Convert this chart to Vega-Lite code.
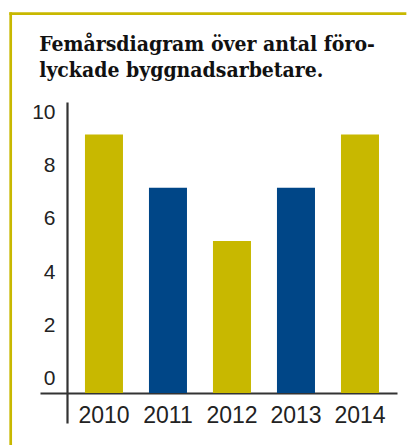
{
  "$schema": "https://vega.github.io/schema/vega-lite/v6.json",
  "width": 394.3,
  "height": 431.3,
  "autosize": {"type": "none"},
  "padding": {"left": 10.7, "top": 13.7, "right": 8, "bottom": 0},
  "background": "white",
  "title": {
    "text": ["Femårsdiagram över antal föro-", "lyckade byggnadsarbetare."],
    "anchor": "start",
    "frame": "group",
    "font": "DejaVu Serif Condensed, DejaVu Serif",
    "fontWeight": "bold",
    "fontSize": 21,
    "lineHeight": 26,
    "color": "#111111",
    "offset": 0,
    "baseline": "alphabetic",
    "dx": 28.5,
    "dy": 87
  },
  "data": {
    "values": [
      {"year": "2010", "count": 9},
      {"year": "2011", "count": 7},
      {"year": "2012", "count": 5},
      {"year": "2013", "count": 7},
      {"year": "2014", "count": 9}
    ]
  },
  "layer": [
    {
      "mark": {"type": "point", "opacity": 0},
      "encoding": {
        "x": {
          "field": "count",
          "type": "quantitative",
          "axis": {"orient": "top", "labels": false, "ticks": false, "grid": false, "title": null, "domainColor": "#C8B800", "domainWidth": 2.7, "domainCap": "square", "translate": 0}
        },
        "y": {
          "field": "count",
          "type": "quantitative",
          "axis": {"orient": "right", "offset": -394.3, "labels": false, "ticks": false, "grid": false, "title": null, "domainColor": "#C8B800", "domainWidth": 2.7, "domainCap": "square", "translate": 0}
        }
      }
    },
    {
      "mark": {"type": "bar"},
      "encoding": {
        "x": {
          "field": "year",
          "type": "ordinal",
          "scale": {"range": [29.3, 386.3], "paddingInner": 0.406, "paddingOuter": 0.492, "align": 0.714},
          "axis": {
            "orient": "bottom",
            "title": null,
            "offset": -52,
            "ticks": false,
            "tickSize": 0,
            "labelPadding": 11,
            "labelAngle": 0,
            "labelFont": "Liberation Sans Narrow, Liberation Sans",
            "labelFontSize": 23,
            "labelColor": "#222222",
            "domainColor": "#333333",
            "domainWidth": 2.2
          }
        },
        "y": {
          "field": "count",
          "type": "quantitative",
          "scale": {"domain": [-1.842, 10.226], "range": [409.3, 88.3], "nice": false, "zero": false},
          "axis": {
            "orient": "left",
            "title": null,
            "values": [0, 2, 4, 6, 8, 10],
            "offset": -56.3,
            "ticks": false,
            "tickSize": 0,
            "grid": false,
            "labelPadding": 12,
            "labelOffset": 4.5,
            "labelFont": "Liberation Sans Narrow, Liberation Sans",
            "labelFontSize": 21,
            "labelColor": "#222222",
            "domainColor": "#333333",
            "domainWidth": 2.2
          }
        },
        "y2": {"datum": -0.714},
        "color": {
          "field": "year",
          "type": "nominal",
          "scale": {"domain": ["2010", "2011", "2012", "2013", "2014"], "range": ["#C8B800", "#004687", "#C8B800", "#004687", "#C8B800"]},
          "legend": null
        }
      }
    }
  ],
  "resolve": {
    "scale": {"x": "independent", "y": "independent"},
    "axis": {"x": "independent", "y": "independent"}
  },
  "config": {
    "view": {"stroke": null, "fill": "white"}
  }
}
